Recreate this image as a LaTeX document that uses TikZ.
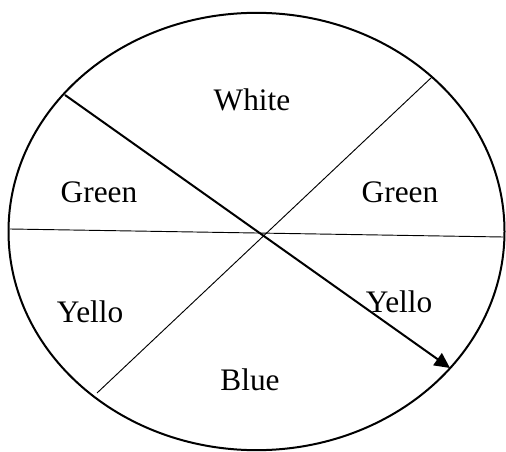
\documentclass[tikz,border=0pt]{standalone}
\usepackage{fontspec}
\setmainfont{Liberation Serif}
\usetikzlibrary{arrows.meta}
\begin{document}
\begin{tikzpicture}[x=0.75pt,y=-0.75pt,
  lbl/.style={font=\fontsize{23.5}{28}\selectfont, inner sep=0pt},
  rim/.style={line width=1.5pt},
  divider/.style={line width=0.7pt},
  pointer/.style={line width=1.5pt, -{Triangle[length=11.5pt,width=11pt]}}]
\useasboundingbox (0,0) rectangle (506,452);
\draw[rim] (256.5,231.5) ellipse [x radius=186pt, y radius=164pt];
\coordinate (hl) at (10,229);
\coordinate (hr) at (503,237);
\coordinate (dtr) at (432,77);
\coordinate (dbl) at (97,393);
\coordinate (as) at (65,95);
\coordinate (ae) at (450,368);
\draw[divider] (hl) -- (hr);
\draw[divider] (dtr) -- (dbl);
\draw[pointer] (as) -- (ae);
\node[lbl] (white) at (252,100) {White};
\node[lbl] (greenl) at (99,192) {Green};
\node[lbl] (greenr) at (400,192) {Green};
\node[lbl] (yellol) at (90,312) {Yello};
\node[lbl] (yellor) at (399,302) {Yello};
\node[lbl] (blue) at (250,380) {Blue};
\end{tikzpicture}
\end{document}
